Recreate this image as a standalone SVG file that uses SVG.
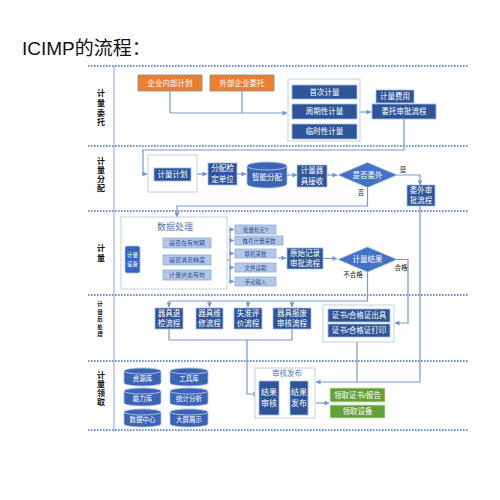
<svg xmlns="http://www.w3.org/2000/svg" width="500" height="500" viewBox="0 0 500 500">
<defs>
<style>
text{font-family:"Liberation Sans","Noto Sans CJK SC",sans-serif;dominant-baseline:central;text-anchor:middle}
.db{fill:#2E5597;stroke:#A9BCE0;stroke-width:0.8}
.or{fill:#ED7D31;stroke:#8C8C8C;stroke-width:0.8}
.lb{fill:#B4C7E7;stroke:#8FAADC;stroke-width:0.8}
.gr{fill:#62A03A;stroke:#D0E4C4;stroke-width:0.8}
.grp{fill:#fff;stroke:#C8CFDA;stroke-width:1}
.dm{fill:#4472C4;stroke:#A9BCE0;stroke-width:0.8}
.cy{fill:#3B64B4;stroke:#A9BCE0;stroke-width:0.8}
.w{fill:#fff;font-size:7.5px}
.ws{fill:#fff;font-size:6.5px}
.dk{fill:#2F5597;font-size:6px}
.lab{fill:#111;font-size:8px;font-weight:bold}
.labs{fill:#111;font-size:5.5px;font-weight:bold}
.sm{fill:#222;font-size:6.5px}
.dot{stroke:#4472C4;stroke-width:1.6;stroke-dasharray:1.6 1.4;fill:none}
.cn path{fill:none;stroke:#7A98CE;stroke-width:1.2}
</style>
<marker id="ar" viewBox="0 0 6 6" refX="5.5" refY="3" markerWidth="5" markerHeight="5" orient="auto" markerUnits="userSpaceOnUse">
<path d="M0,0 L6,3 L0,6 z" fill="#7A98CE"/>
</marker>
</defs>
<rect width="500" height="500" fill="#fff"/>
<text x="22" y="48" style="font-size:19px;text-anchor:start;fill:#111">ICIMP的流程：</text>

<g id="grid">
<path class="dot" d="M88,66 H468 M88,146 H468 M88,211 H468 M88,295 H468 M88,361 H468 M88,430 H468"/>
<path d="M114,66 V432" stroke="#9FB3D6" stroke-width="1.2"/>
</g>

<g id="lanes">
<text class="lab" x="101" y="93">计</text><text class="lab" x="101" y="103">量</text><text class="lab" x="101" y="113">委</text><text class="lab" x="101" y="122">托</text>
<text class="lab" x="101" y="161">计</text><text class="lab" x="101" y="170">量</text><text class="lab" x="101" y="179">分</text><text class="lab" x="101" y="188">配</text>
<text class="lab" x="101" y="248">计</text><text class="lab" x="101" y="258">量</text>
<text class="labs" x="100" y="304">计</text><text class="labs" x="100" y="311.5">量</text><text class="labs" x="100" y="319">后</text><text class="labs" x="100" y="326.5">处</text><text class="labs" x="100" y="334">理</text>
<text class="lab" x="101" y="375">计</text><text class="lab" x="101" y="384">量</text><text class="lab" x="101" y="393">领</text><text class="lab" x="101" y="402">取</text>
</g>

<g class="cn" id="connectors">
<path d="M170,91 V113 M242,91 V113"/>
<path d="M170,113 H287" marker-end="url(#ar)"/>
<path d="M360,112 H371" marker-end="url(#ar)"/>
<path d="M404,119 V150 H143 V174 H147" marker-end="url(#ar)"/>
<path d="M197,174 H207" marker-end="url(#ar)"/>
<path d="M237,174 H246" marker-end="url(#ar)"/>
<path d="M287,175 H297" marker-end="url(#ar)"/>
<path d="M327,175 H337" marker-end="url(#ar)"/>
<path d="M397,175 H420 V185" marker-end="url(#ar)"/>
<path d="M367.5,187.5 V206 H177 V217" marker-end="url(#ar)"/>
<path d="M140,259 H152 M152,243 V275"/>
<path d="M152,243 H162" marker-end="url(#ar)"/>
<path d="M152,260 H162" marker-end="url(#ar)"/>
<path d="M152,275 H162" marker-end="url(#ar)"/>
<path d="M211,260 H229"/>
<path d="M230,229.5 V281.5"/>
<path d="M230,229.5 H234" marker-end="url(#ar)"/>
<path d="M230,240.5 H234" marker-end="url(#ar)"/>
<path d="M230,253.5 H234" marker-end="url(#ar)"/>
<path d="M230,267.5 H234" marker-end="url(#ar)"/>
<path d="M230,281.5 H234" marker-end="url(#ar)"/>
<path d="M278,258 H286" marker-end="url(#ar)"/>
<path d="M323,258.5 H337" marker-end="url(#ar)"/>
<path d="M397,259.5 H408 V323 H395" marker-end="url(#ar)"/>
<path d="M367.5,272 V301 H169"/>
<path d="M169,301 V307" marker-end="url(#ar)"/>
<path d="M209.5,301 V307" marker-end="url(#ar)"/>
<path d="M248,301 V307" marker-end="url(#ar)"/>
<path d="M292,301 V307" marker-end="url(#ar)"/>
<path d="M169,329 V340 H292 V329"/>
<path d="M247,340 V394 H258" marker-end="url(#ar)"/>
<path d="M420,206 V382 H316" marker-end="url(#ar)"/>
<path d="M357,342 V382"/>
<path d="M279,398 H289" marker-end="url(#ar)"/>
<path d="M316,403 H329" marker-end="url(#ar)"/>
</g>

<g id="n-internal"><rect class="or" x="138" y="75" width="64" height="16"/><text class="w" x="170" y="83">企业内部计划</text></g>
<g id="n-external"><rect class="or" x="210" y="75" width="64" height="16"/><text class="w" x="242" y="83">外部企业委托</text></g>
<g id="n-types">
<rect class="grp" x="288" y="79" width="72" height="62"/>
<rect class="db" x="292" y="85" width="65" height="14"/><text class="w" x="324.5" y="92">首次计量</text>
<rect class="db" x="292" y="104" width="65" height="15"/><text class="w" x="324.5" y="111.5">周期性计量</text>
<rect class="db" x="292" y="124" width="65" height="15"/><text class="w" x="324.5" y="131.5">临时性计量</text>
</g>
<g id="n-fee"><rect class="db" x="376" y="90" width="38" height="13"/><text class="w" x="395" y="96.5">计量费用</text></g>
<g id="n-approve"><rect class="db" x="372" y="104" width="64" height="15"/><text class="w" x="404" y="111.5">委托审批流程</text></g>

<g id="n-plan"><rect class="grp" x="148" y="155" width="49" height="37"/><rect class="db" x="154" y="168" width="37" height="13"/><text class="w" x="172.5" y="174.5">计量计划</text></g>
<g id="n-assign"><rect class="db" x="208" y="163" width="29" height="22"/><text class="w" x="222.5" y="168.5">分配检</text><text class="w" x="222.5" y="179">定单位</text></g>
<g id="n-smart">
<path class="cy" d="M247,166 V184 A20,4 0 0 0 287,184 V166 A20,4 0 0 0 247,166 Z"/>
<ellipse cx="267" cy="166" rx="20" ry="4" fill="#3B64B4" stroke="#C5D3EC" stroke-width="0.8"/>
<text class="w" x="267" y="177">智能分配</text>
</g>
<g id="n-receive"><rect class="db" x="297" y="165" width="30" height="22"/><text class="w" x="312" y="170.5">计量器</text><text class="w" x="312" y="181">具接收</text></g>
<g id="n-outsource"><path class="dm" d="M338,175 L367.5,162.5 L397,175 L367.5,187.5 Z"/><text class="w" x="367.5" y="175">是否委外</text></g>
<text class="sm" x="403" y="169">是</text>
<text class="sm" x="361" y="192">否</text>
<g id="n-outapprove"><rect class="db" x="407" y="185" width="28" height="21"/><text class="w" x="421" y="190.5">委外审</text><text class="w" x="421" y="200.5">批流程</text></g>

<g id="n-data">
<rect class="grp" x="121" y="217" width="106" height="72"/>
<text x="175" y="227" style="font-size:9px;fill:#5A76A8">数据处理</text>
<rect x="125" y="246" width="15" height="27" rx="2" fill="#3566BE" stroke="#A9BCE0" stroke-width="0.8"/>
<text class="ws" x="132.5" y="255" style="font-size:5.5px">计量</text><text class="ws" x="132.5" y="264" style="font-size:5.5px">设备</text>
<rect class="lb" x="163" y="238" width="48" height="10"/><text class="dk" x="187" y="243">是否在有效期</text>
<rect class="lb" x="163" y="255" width="48" height="10"/><text class="dk" x="187" y="260">是否满足精度</text>
<rect class="lb" x="163" y="270" width="48" height="10"/><text class="dk" x="187" y="275">计量状态有效</text>
</g>
<g id="n-batch"><rect class="lb" x="235" y="225" width="41" height="9"/><text class="dk" x="255.5" y="229.5" style="font-size:5.5px">批量检定?</text></g>
<g id="n-recommend"><rect class="lb" x="235" y="236" width="48" height="9"/><text class="dk" x="259" y="240.5" style="font-size:5.5px">推荐计量采数</text></g>
<g id="n-online"><rect class="lb" x="235" y="249" width="41" height="9"/><text class="dk" x="255.5" y="253.5" style="font-size:5.5px">联机采数</text></g>
<g id="n-file"><rect class="lb" x="235" y="263" width="41" height="9"/><text class="dk" x="255.5" y="267.5" style="font-size:5.5px">文件读取</text></g>
<g id="n-manual"><rect class="lb" x="235" y="277" width="41" height="9"/><text class="dk" x="255.5" y="281.5" style="font-size:5.5px">手动输入</text></g>
<g id="n-record"><rect class="db" x="287" y="248" width="36" height="21"/><text class="w" x="305" y="253.5">原始记录</text><text class="w" x="305" y="263.5">审批流程</text></g>
<g id="n-result"><path class="dm" d="M338,259.5 L367.5,247 L397,259.5 L367.5,272 Z"/><text class="w" x="367.5" y="259.5">计量结果</text></g>
<text class="sm" x="401" y="267">合格</text>
<text class="sm" x="353" y="274">不合格</text>

<g id="n-return"><rect class="db" x="155" y="308" width="28" height="21"/><text class="w" x="169" y="313.5">器具退</text><text class="w" x="169" y="323.5">检流程</text></g>
<g id="n-repair"><rect class="db" x="196" y="308" width="27" height="21"/><text class="w" x="209.5" y="313.5">器具维</text><text class="w" x="209.5" y="323.5">修流程</text></g>
<g id="n-eval"><rect class="db" x="234" y="308" width="28" height="21"/><text class="w" x="248" y="313.5">失准评</text><text class="w" x="248" y="323.5">价流程</text></g>
<g id="n-scrap"><rect class="db" x="273" y="308" width="38" height="21"/><text class="w" x="292" y="313.5">器具报废</text><text class="w" x="292" y="323.5">审核流程</text></g>
<g id="n-cert">
<rect class="grp" x="323" y="305" width="71" height="37"/>
<rect class="db" x="328" y="309" width="62" height="13"/><text class="w" x="359" y="315.5">证书/合格证出具</text>
<rect class="db" x="328" y="324" width="62" height="13"/><text class="w" x="359" y="330.5">证书/合格证打印</text>
</g>

<g id="n-db">
<g id="n-res"><path class="cy" d="M124,371 V383 A18.5,3 0 0 0 161,383 V371 A18.5,3 0 0 0 124,371 Z"/><ellipse cx="142.5" cy="371" rx="18.5" ry="3" fill="#3B64B4" stroke="#C5D3EC" stroke-width="0.8"/><text class="ws" x="142.5" y="378.5">资源库</text></g>
<g id="n-tool"><path class="cy" d="M170,371 V383 A19,3 0 0 0 208,383 V371 A19,3 0 0 0 170,371 Z"/><ellipse cx="189" cy="371" rx="19" ry="3" fill="#3B64B4" stroke="#C5D3EC" stroke-width="0.8"/><text class="ws" x="189" y="378.5">工具库</text></g>
<g id="n-cap"><path class="cy" d="M124,391 V403 A18.5,3 0 0 0 161,403 V391 A18.5,3 0 0 0 124,391 Z"/><ellipse cx="142.5" cy="391" rx="18.5" ry="3" fill="#3B64B4" stroke="#C5D3EC" stroke-width="0.8"/><text class="ws" x="142.5" y="398.5">能力库</text></g>
<g id="n-stat"><path class="cy" d="M170,391 V403 A19,3 0 0 0 208,403 V391 A19,3 0 0 0 170,391 Z"/><ellipse cx="189" cy="391" rx="19" ry="3" fill="#3B64B4" stroke="#C5D3EC" stroke-width="0.8"/><text class="ws" x="189" y="398.5">统计分析</text></g>
<g id="n-center"><path class="cy" d="M124,412 V424 A18.5,3 0 0 0 161,424 V412 A18.5,3 0 0 0 124,412 Z"/><ellipse cx="142.5" cy="412" rx="18.5" ry="3" fill="#3B64B4" stroke="#C5D3EC" stroke-width="0.8"/><text class="ws" x="142.5" y="419.5">数据中心</text></g>
<g id="n-screen"><path class="cy" d="M170,412 V424 A19,3 0 0 0 208,424 V412 A19,3 0 0 0 170,412 Z"/><ellipse cx="189" cy="412" rx="19" ry="3" fill="#3B64B4" stroke="#C5D3EC" stroke-width="0.8"/><text class="ws" x="189" y="419.5">大屏展示</text></g>
</g>

<g id="n-review">
<rect class="grp" x="255" y="368" width="60" height="50"/>
<text x="287" y="373.5" style="font-size:7.5px;fill:#5A76A8">审核发布</text>
<rect class="db" x="259" y="381" width="20" height="34"/><text class="w" x="269" y="392" style="font-size:8px">结果</text><text class="w" x="269" y="403" style="font-size:8px">审核</text>
<rect class="db" x="290" y="381" width="18" height="34"/><text class="w" x="299" y="392" style="font-size:8px">结果</text><text class="w" x="299" y="403" style="font-size:8px">发布</text>
</g>
<g id="n-getcert"><rect class="gr" x="330" y="388" width="55" height="14"/><text class="w" x="357.5" y="395">领取证书/报告</text></g>
<g id="n-getdev"><rect class="gr" x="330" y="405" width="55" height="13"/><text class="w" x="357.5" y="411.5">领取设备</text></g>
</svg>
